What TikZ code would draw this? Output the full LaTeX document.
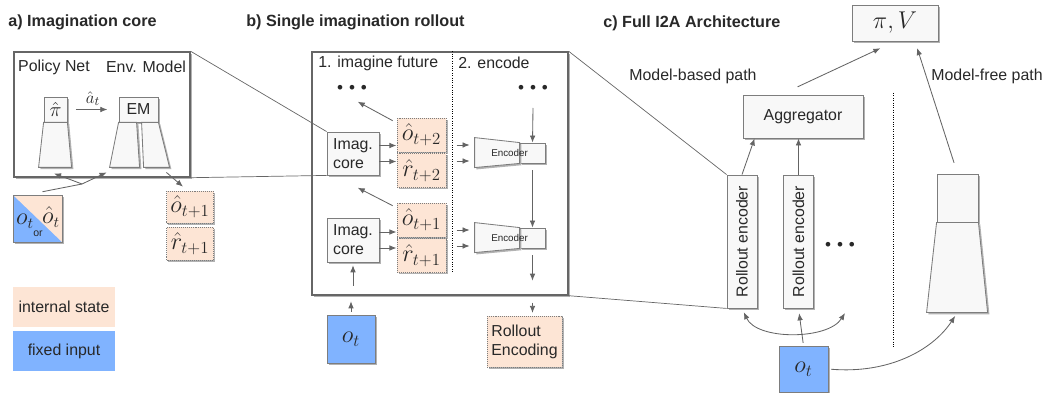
\documentclass[tikz,border=0pt]{standalone}
\usepackage{amsmath}
\usepackage{fontspec}
\setmainfont{Liberation Sans}
\usepackage{tikz}
\usetikzlibrary{
    arrows.meta,
    positioning,
    shadows,
    calc
}
\definecolor{peach}{RGB}{253,229,213}
\definecolor{fixblue}{RGB}{128,179,255}
\definecolor{boxfill}{RGB}{248,248,248}
\definecolor{edge}{RGB}{125,125,125}
\definecolor{arrowgray}{RGB}{100,100,100}
\definecolor{ink}{RGB}{40,40,40}
\newcommand\pxu{0.025cm}
\newcommand\threedots{{\fontsize{8}{8}\selectfont$\bullet\mkern5mu\bullet\mkern5mu\bullet$}}
\tikzset{%
   >={Latex[length=5pt,width=4pt]},
   shade/.style={
      drop shadow={shadow xshift=1.3pt, shadow yshift=-1.3pt, fill=black!30, opacity=1}
   },
   box/.style={
      draw=edge,
      fill=boxfill,
      line width=0.6pt,
      inner sep=1pt,
      shade
   },
   state/.style={
      draw=edge,
      densely dotted,
      fill=peach,
      inner sep=0pt,
      shade,
      font=\fontsize{18}{18}\selectfont
   },
   fixed/.style={
      draw=edge,
      fill=fixblue,
      inner sep=0pt,
      shade,
      font=\fontsize{18}{18}\selectfont
   },
   panel/.style={
      draw=black!60,
      fill=white,
      line width=1pt,
      shade
   },
   arr/.style={->, draw=arrowgray, line width=0.6pt},
   darr/.style={<->, draw=arrowgray, line width=0.6pt},
   zoomline/.style={draw=black!60, line width=0.5pt},
   title/.style={font=\fontsize{11.5}{13}\selectfont\bfseries, anchor=west, inner sep=0pt},
   stagelbl/.style={anchor=west, inner sep=0pt},
   enctext/.style={font=\fontsize{7}{7}\selectfont, inner sep=0pt},
   legend/.style={minimum width=102*\pxu, minimum height=40*\pxu}
}

\begin{document}
\begin{tikzpicture}[x=\pxu, y=-\pxu, font=\fontsize{11.3}{13.5}\selectfont, text=ink]
   \useasboundingbox (0,0) rectangle (1044,393);
   % titles
   \node[title] (titleA) at (8,22) {a) Imagination core};
   \node[title] (titleB) at (246,22) {b) Single imagination rollout};
   \node[title] (titleC) at (603,23) {c) Full I2A Architecture};

   % a) imagination core
   \node[panel, minimum width=176*\pxu, minimum height=125*\pxu] (panelA) at (102,114.5) {};
   \node (polLbl) at (54,67) {Policy Net};
   \node (emLbl) at (146,67) {Env. Model};
   \node[box, minimum width=23*\pxu, minimum height=25*\pxu, font=\fontsize{14}{14}\selectfont] (pol) at (55.5,109.5) {$\hat\pi$};
   \draw[box] (pol.south west) -- ++(-5,45) -- ++(33,0) -- (pol.south east) -- cycle;
   \node[box, minimum width=39*\pxu, minimum height=25*\pxu] (em) at (138.5,109.5) {EM};
   \draw[box] (em.south west) -- ++(-9,45) -- ++(30,0) -- ($(em.south west)+(18,0)$) -- cycle;
   \draw[box] ($(em.south west)+(23,0)$) -- ++(2,45) -- ++(26,0) -- (em.south east) -- cycle;
   \draw[arr, shorten <=6pt, shorten >=8pt] (pol.east) -- (em.west)
      node[midway, above=-1pt, font=\fontsize{13}{13}\selectfont] (act) {$\hat a_t$};

   \node[fixed, minimum width=49*\pxu, minimum height=47*\pxu,
      path picture={\fill[peach] (path picture bounding box.north west) -- (path picture bounding box.north east)
         -- (path picture bounding box.south east) -- cycle;}] (obsA) at (37.5,218.5) {};
   \node[font=\fontsize{16}{16}\selectfont] (obsAo) at (25,221) {$o_t$};
   \node[font=\fontsize{16}{16}\selectfont] (obsAh) at (51,217) {$\hat o_t$};
   \node[font=\fontsize{7.5}{8}\selectfont] (obsAor) at (38,234) {or};
   \coordinate (jn) at (82,184);
   \draw[arrowgray, line width=0.6pt] ($(obsA.north)+(5,-3)$) -- (jn);
   \draw[arr] (jn) -- ($(pol.south)+(-1.5,51)$);
   \draw[arr] (jn) -- ($(em.south west)+(-12,50)$);
   \node[state, minimum width=47*\pxu, minimum height=32*\pxu] (ohA) at (190,207) {$\hat o_{t+1}$};
   \node[state, minimum width=47*\pxu, minimum height=33*\pxu] (rhA) at (190,243.5) {$\hat r_{t+1}$};
   \draw[arr] ($(em.south east)+(8,50)$) -- ($(ohA.north)+(-7,-4)$);

   % legend
   \node[legend, fill=peach] (lgState) at (64,307) {internal state};
   \node[legend, fill=fixblue] (lgInput) at (64,351) {fixed input};

   % b) single imagination rollout
   \node[panel, minimum width=256*\pxu, minimum height=243*\pxu] (panelB) at (440,173.5) {};
   \draw[densely dotted, line width=0.7pt] ($(panelB.north west)+(141,0)$) -- ($(panelB.north west)+(141,221)$);
   \node[stagelbl] (stepOne) at (318,63) {1. imagine future};
   \node[stagelbl] (stepTwo) at (458,63) {2. encode};
   \node (dotsL) at (352,88) {\threedots};
   \node (dotsR) at (533,88) {\threedots};

   \node[box, minimum width=52*\pxu, minimum height=43*\pxu, align=left] (core2) at (353,153.5) {Imag.\\core};
   \node[box, minimum width=52*\pxu, minimum height=44*\pxu, align=left] (core1) at (353,240) {Imag.\\core};
   \node[state, minimum width=49*\pxu, minimum height=34*\pxu] (oh2) at (421.5,135) {$\hat o_{t+2}$};
   \node[state, minimum width=49*\pxu, minimum height=34*\pxu] (rh2) at (421.5,170.5) {$\hat r_{t+2}$};
   \node[state, minimum width=49*\pxu, minimum height=34*\pxu] (oh1) at (421.5,220) {$\hat o_{t+1}$};
   \node[state, minimum width=49*\pxu, minimum height=34*\pxu] (rh1) at (421.5,255.5) {$\hat r_{t+1}$};
   \foreach \c in {core2, core1} {
      \draw[arr] ($(\c.east)+(0,-8)$) -- ++(17,0);
      \draw[arr] ($(\c.east)+(0,8)$) -- ++(17,0);
   }
   \draw[arr] ($(oh2.north west)+(-4,3)$) -- ++(-35,-19);
   \draw[arr] ($(oh1.north west)+(-4,3)$) -- ++(-35,-18);

   \foreach \e/\y in {enc2/153, enc1/238} {
      \node[box, minimum width=25*\pxu, minimum height=20*\pxu] (\e) at (532.5,\y) {};
      \draw[box] (\e.north west) -- ++(-45,-5) -- ++(0,30) -- (\e.south west) -- cycle;
      \node[enctext] (\e txt) at ($(\e.west)+(-10,0)$) {Encoder};
      \draw[arr] ($(\e.west)+(-63,-8)$) -- ++(13,0);
      \draw[arr] ($(\e.west)+(-63,8)$) -- ++(13,0);
   }
   \node[state, font=\fontsize{11.3}{13.5}\selectfont, align=left, minimum width=75*\pxu, minimum height=51*\pxu] (renc) at (524.5,341.5) {Rollout\\Encoding};
   \draw[arr] ($(dotsR)+(0,20)$) -- (enc2.north);
   \draw[arr, shorten <=5pt] (enc2.south) -- (enc1.north);
   \draw[arr, shorten <=5pt] (enc1.south) -- ($(enc1.south |- panelB.south)+(0,-15)$);
   \draw[arr, shorten >=2pt] ($(enc1.south |- panelB.south)+(0,7)$) -- (enc1.south |- renc.north);

   \node[fixed, minimum width=48*\pxu, minimum height=48*\pxu] (obsB) at (351,339) {$o_t$};
   \draw[arr, shorten >=2pt] ($(core1.south |- panelB.south)+(0,-10)$) -- (core1.south);
   \draw[arr, shorten <=2pt, shorten >=4pt] (obsB.north) -- (obsB.north |- panelB.south);

   % c) full architecture
   \node[box, minimum width=86*\pxu, minimum height=36*\pxu, font=\fontsize{18}{18}\selectfont] (piv) at (895,23) {$\pi, V$};
   \node (mbp) at (693,76) {Model-based path};
   \node (mfp) at (987,76) {Model-free path};
   \node[box, minimum width=120*\pxu, minimum height=43*\pxu] (agg) at (803,116.5) {Aggregator};
   \node[box, rotate=90, minimum width=133*\pxu, minimum height=30*\pxu] (re1) at (742,241.5) {Rollout encoder};
   \node[box, rotate=90, minimum width=133*\pxu, minimum height=30*\pxu] (re2) at (798.5,241.5) {Rollout encoder};
   \node (dotsC) at (840,245) {\threedots};
   \draw[densely dotted, line width=0.7pt] (893,93) -- (893,348);
   \node[box, minimum width=41*\pxu, minimum height=48*\pxu] (tower) at (957.5,198) {};
   \draw[box] (tower.south west) -- ++(-10,90) -- ++(61,0) -- (tower.south east) -- cycle;
   \coordinate (towerBase) at ($(tower.south)+(0,90)$);
   \node[fixed, minimum width=49*\pxu, minimum height=46*\pxu] (obsC) at (803.5,369) {$o_t$};

   \draw[arr] (re1.east) -- ($(agg.south west)+(12,0)$);
   \draw[arr] (re2.east) -- (re2.east |- agg.south);
   \draw[arr, shorten <=13pt, shorten >=11.5pt] ($(agg.north)+(-22,0)$) -- (piv.south);
   \draw[arr, shorten <=8pt, shorten >=5pt] (tower.north) -- ($(piv.south)+(20,0)$);
   \coordinate (dotsArrow) at (845,313);
   \draw[arr, shorten <=2pt, shorten >=3.5pt] (obsC.north) -- (re2.west);
   \draw[darr, shorten <=3pt] (re1.west) .. controls +(15,32) and +(-17,27) .. (dotsArrow);
   \draw[arr, shorten <=2pt, shorten >=3pt] (obsC.east) .. controls +(60,5) and +(-25,38) .. (towerBase);

   % zoom lines
   \draw[zoomline] (panelA.north east) -- (core2.north west);
   \draw[zoomline] (panelA.south east) -- (core2.south west);
   \draw[zoomline] (panelB.north east) -- (re1.north east);
   \draw[zoomline] (panelB.south east) -- (re1.north west);
\end{tikzpicture}
\end{document}
